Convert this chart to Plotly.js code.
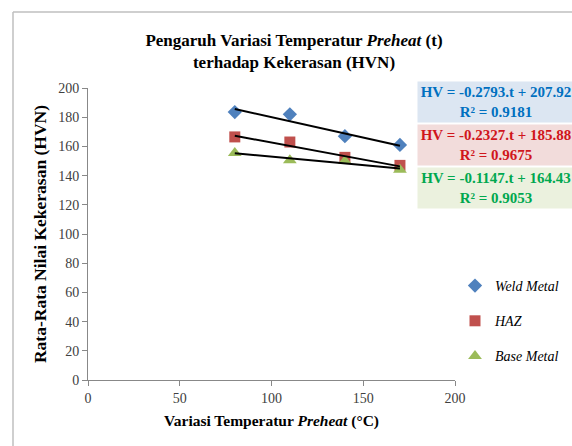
<!DOCTYPE html>
<html>
<head>
<meta charset="utf-8">
<script src="https://cdn.plot.ly/plotly-3.0.1.min.js"></script>
<style>html,body{margin:0;padding:0;background:#fff;}#chart{width:572px;height:446px;}</style>
</head>
<body>
<div id="chart"></div>
<script>
const temps = [80, 110, 140, 170];
const weldMetal = [183.5, 182, 167, 161];
const haz = [166.5, 163, 152.5, 147];
const baseMetal = [155.5, 150.5, 150, 144];
const seriesNames = ['Weld Metal', 'HAZ', 'Base Metal'];
const slopes = [-0.2793, -0.2327, -0.1147];
const intercepts = [207.92, 185.88, 164.43];
const r2 = [0.9181, 0.9675, 0.9053];
const trendRange = [80, 170];

const serif = 'Liberation Serif, Times New Roman, serif';
const colors = ['#4f81bd', '#c0504d', '#9bbb59'];
const boxText = ['#0070c0', '#d0161c', '#00a84f'];
const boxBg = ['#dce6f2', '#f2dcdb', '#ebf1de'];
const symbols = ['diamond', 'square', 'triangle-up'];
const sizes = [11, 11, 12];
const data = [weldMetal, haz, baseMetal];

const traces = [];
data.forEach((ys, i) => {
  traces.push({
    x: temps, y: ys, type: 'scatter', mode: 'markers', name: seriesNames[i],
    legendgroup: 'g' + i,
    marker: {symbol: symbols[i], color: colors[i], size: sizes[i]},
    cliponaxis: false
  });
});
data.forEach((ys, i) => {
  traces.push({
    x: trendRange, y: trendRange.map(t => slopes[i] * t + intercepts[i]),
    type: 'scatter', mode: 'lines', showlegend: false, hoverinfo: 'skip',
    line: {color: '#000000', width: 2}
  });
});

const ml = 88, mr = 117, mt = 88, mb = 66;
const pw = 572 - ml - mr, ph = 446 - mt - mb;
const px = p => (p - ml) / pw;
const py = p => (446 - mb - p) / ph;

const boxCentersY = [102, 145, 188];
const annotations = slopes.map((s, i) => ({
  xref: 'paper', yref: 'paper', x: px(496), y: py(boxCentersY[i]),
  xanchor: 'center', yanchor: 'middle', showarrow: false,
  text: 'HV = ' + s.toFixed(4) + '.t + ' + intercepts[i].toFixed(2) + '<br>R² = ' + r2[i].toFixed(4),
  font: {family: serif, size: 15, color: boxText[i], weight: 'bold'},
  bgcolor: boxBg[i], width: 154, height: 38, align: 'center'
}));

const layout = {
  width: 572, height: 446,
  margin: {l: ml, r: mr, t: mt, b: mb, autoexpand: false},
  paper_bgcolor: '#ffffff', plot_bgcolor: '#ffffff',
  font: {family: serif, color: '#404040', size: 14},
  title: {
    text: '<b>Pengaruh Variasi Temperatur <i>Preheat</i> (t)<br>terhadap Kekerasan (HVN)</b>',
    font: {family: serif, size: 17, color: '#000000'},
    xref: 'container', x: 294 / 572, xanchor: 'center',
    yref: 'container', y: 1 - 46 / 446, yanchor: 'middle'
  },
  xaxis: {
    range: [0, 200], dtick: 50, tick0: 0, showgrid: false, zeroline: false,
    showline: true, linecolor: '#888888', linewidth: 1,
    ticks: 'outside', ticklen: 5, tickcolor: '#888888',
    tickfont: {family: serif, size: 14, color: '#404040'},
    title: {text: '<b>Variasi Temperatur <i>Preheat</i> (°C)</b>', font: {family: serif, size: 15.5, color: '#000000'}, standoff: 10}
  },
  yaxis: {
    range: [0, 200], dtick: 20, tick0: 0, showgrid: false, zeroline: false,
    showline: true, linecolor: '#888888', linewidth: 1,
    ticks: 'outside', ticklen: 5, tickcolor: '#888888',
    tickfont: {family: serif, size: 14, color: '#404040'},
    title: {text: '<b>Rata-Rata Nilai Kekerasan (HVN)</b>', font: {family: serif, size: 17.5, color: '#000000'}, standoff: 7}
  },
  legend: {
    xref: 'paper', yref: 'paper', x: px(455), y: py(270), xanchor: 'left', yanchor: 'top',
    font: {family: serif, size: 14, color: '#000000', style: 'italic'},
    traceorder: 'grouped', tracegroupgap: 14, itemwidth: 30,
    bgcolor: 'rgba(0,0,0,0)'
  },
  annotations: annotations,
  shapes: [
    {type: 'line', xref: 'paper', yref: 'paper', x0: px(13), x1: px(580), y0: py(12), y1: py(12), line: {color: '#bfbfbf', width: 1.5}},
    {type: 'line', xref: 'paper', yref: 'paper', x0: px(13), x1: px(13), y0: py(12), y1: py(450), line: {color: '#bfbfbf', width: 1.5}}
  ],
  showlegend: true
};

Plotly.newPlot('chart', traces, layout, {displayModeBar: false, staticPlot: true});
</script>
</body>
</html>
